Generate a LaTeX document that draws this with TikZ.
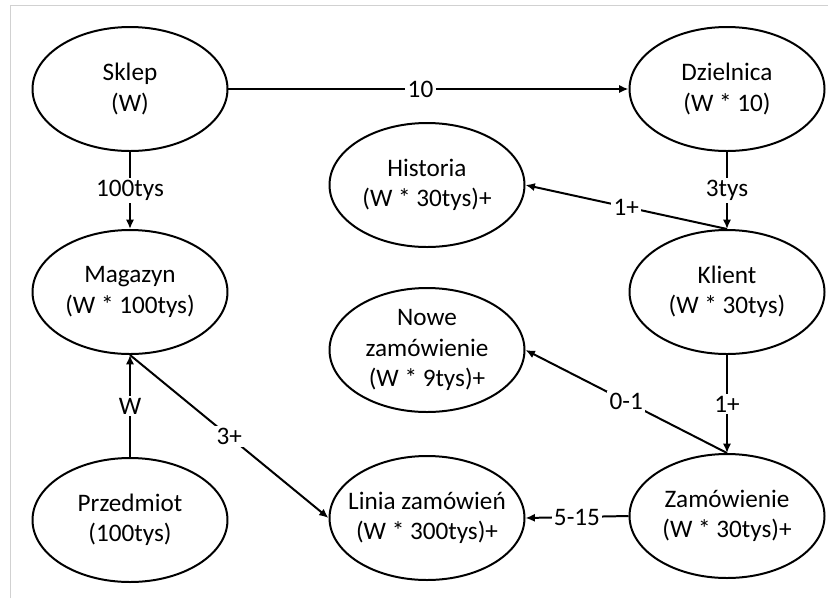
\documentclass[tikz,border=0pt]{standalone}
\usepackage{fontspec}
\setmainfont{Carlito}
\usepackage{tikz}
\usetikzlibrary{shapes.geometric, arrows.meta}

\begin{document}
\begin{tikzpicture}[
    >={Latex[length=8pt,width=7pt]},
    line width=1.7pt,
    entity/.style={draw, ellipse, minimum width=5.85cm, minimum height=3.72cm, inner sep=-0.5cm, align=center, font=\fontsize{21.5}{26}\selectfont},
    card/.style={fill=white, inner sep=2pt, font=\fontsize{21.5}{26}\selectfont}
]

    % Frame
    \useasboundingbox (0,0) rectangle (24.93,-17.94);
    \draw[black!18, line width=0.8pt] (0.30,-17.94) -- (0.30,-0.15) -- (24.84,-0.15);

    % Left column
    \node[entity] (sklep) at (3.90,-2.67) {Sklep\\(W)};
    \node[entity] (magazyn) at (3.90,-8.76) {Magazyn\\(W * 100tys)};
    \node[entity] (przedmiot) at (3.90,-15.60) {Przedmiot\\(100tys)};

    % Middle column
    \node[entity] (historia) at (12.81,-5.55) {Historia\\(W * 30tys)+};
    \node[entity] (nowe) at (12.81,-10.50) {Nowe\\zamówienie\\(W * 9tys)+};
    \node[entity] (linia) at (12.81,-15.54) {Linia zamówień\\(W * 300tys)+};

    % Right column
    \node[entity] (dzielnica) at (21.81,-2.67) {Dzielnica\\(W * 10)};
    \node[entity] (klient) at (21.81,-8.76) {Klient\\(W * 30tys)};
    \node[entity] (zamowienie) at (21.81,-15.48) {Zamówienie\\(W * 30tys)+};

    % Relations
    \draw[->] (sklep.east) -- (dzielnica.west) node[card, pos=0.48] {10};
    \draw[->] (sklep.south) -- (magazyn.north) node[card, midway] {100tys};
    \draw[->] (dzielnica.south) -- (klient.north) node[card, midway] {3tys};
    \draw[->] (klient.north) -- (historia.east) node[card, midway] {1+};
    \draw[->] (klient.south) -- (zamowienie.north) node[card, midway] {1+};
    \draw[->] (zamowienie.north) -- (nowe.east) node[card, midway] {0-1};
    \draw[->] (zamowienie.west) -- (linia.east) node[card, midway] {5-15};
    \draw[->] (przedmiot.north) -- (magazyn.south) node[card, midway] {W};
    \draw[->] (magazyn.south) -- (linia.west) node[card, midway] {3+};

\end{tikzpicture}
\end{document}
